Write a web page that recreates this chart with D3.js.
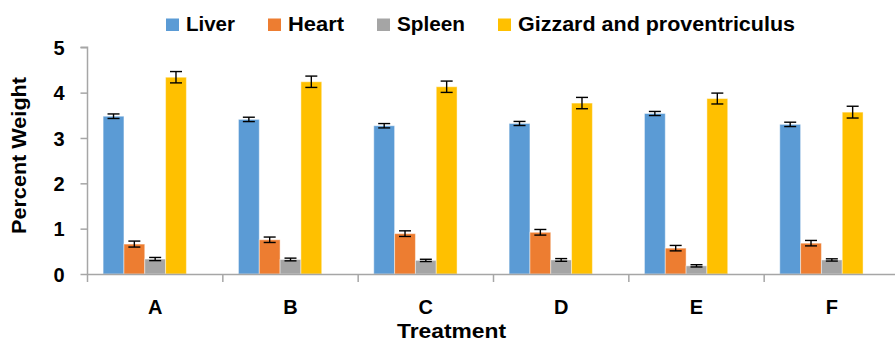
<!DOCTYPE html>
<html>
<head>
<meta charset="utf-8">
<script src="https://cdn.jsdelivr.net/npm/d3@7"></script>
<style>
  html, body { margin: 0; padding: 0; background: #fff; }
  svg { display: block; }
  text { font-family: "Liberation Sans", Arial, sans-serif; font-weight: bold; fill: #000; }
</style>
</head>
<body>
<svg id="chart" width="895" height="341"></svg>
<script>
// ---- data ----
const categories = ["A", "B", "C", "D", "E", "F"];
const seriesNames = ["Liver", "Heart", "Spleen", "Gizzard and proventriculus"];
const liver   = [3.48, 3.41, 3.27, 3.32, 3.54, 3.30];
const liverErr   = [0.05, 0.048, 0.048, 0.045, 0.045, 0.048];
const heart   = [0.66, 0.755, 0.89, 0.92, 0.57, 0.68];
const heartErr   = [0.066, 0.06, 0.062, 0.062, 0.06, 0.06];
const spleen  = [0.33, 0.32, 0.30, 0.31, 0.18, 0.31];
const spleenErr  = [0.035, 0.03, 0.025, 0.03, 0.025, 0.025];
const gizzard = [4.34, 4.24, 4.13, 3.77, 3.87, 3.57];
const gizzardErr = [0.125, 0.125, 0.125, 0.125, 0.12, 0.13];
const yTicks = [0, 1, 2, 3, 4, 5];
const colors = ["#5B9BD5", "#ED7D31", "#A5A5A5", "#FFC000"];

const seriesValues = [liver, heart, spleen, gizzard];
const seriesErrors = [liverErr, heartErr, spleenErr, gizzardErr];

// ---- layout ----
const svg = d3.select("#chart");
const plotLeft = 87.5, plotRight = 899.5, plotTop = 47.3, plotBottom = 274;

const x0 = d3.scaleBand().domain(categories).range([plotLeft, plotRight]).padding(0);
// 5 slots per category (Excel layout with an empty fifth slot), gap width 150%
const x1 = d3.scaleBand().domain(d3.range(5)).range([0, x0.bandwidth()])
  .paddingInner(0).paddingOuter(0.75);
const y = d3.scaleLinear().domain([0, 5]).range([plotBottom, plotTop]);

// bars
seriesNames.forEach((name, si) => {
  const g = svg.append("g");
  g.selectAll("rect").data(categories).join("rect")
    .attr("x", c => x0(c) + x1(si))
    .attr("y", (c, i) => y(seriesValues[si][i]))
    .attr("width", x1.bandwidth())
    .attr("height", (c, i) => y(0) - y(seriesValues[si][i]))
    .attr("fill", colors[si])
    .attr("stroke", "#ffffff")
    .attr("stroke-opacity", 0.45)
    .attr("stroke-width", 1);
});

// error bars
seriesNames.forEach((name, si) => {
  const g = svg.append("g").attr("stroke", "#000").attr("stroke-width", 1.4);
  categories.forEach((c, i) => {
    const cx = x0(c) + x1(si) + x1.bandwidth() / 2;
    const v = seriesValues[si][i], e = seriesErrors[si][i];
    const yTop = y(v + e), yBot = y(v - e);
    g.append("line").attr("x1", cx).attr("x2", cx).attr("y1", yTop).attr("y2", yBot);
    g.append("line").attr("x1", cx - 6).attr("x2", cx + 6).attr("y1", yTop).attr("y2", yTop);
    g.append("line").attr("x1", cx - 6).attr("x2", cx + 6).attr("y1", yBot).attr("y2", yBot);
  });
});

// y axis
const yAxis = d3.axisLeft(y).tickValues(yTicks).tickFormat(d3.format("d")).tickSize(7).tickPadding(16);
const gy = svg.append("g").attr("transform", `translate(${plotLeft},0)`).call(yAxis);
gy.select(".domain").attr("stroke", "#A6A6A6").attr("stroke-width", 1.5).attr("d", `M-7,${y(5)}H0V${y(0)}`);
gy.selectAll(".tick line").attr("stroke", "#A6A6A6").attr("stroke-width", 1.5);
gy.selectAll(".tick text").style("font-size", "20px").style("font-family", "Liberation Sans, Arial, sans-serif")
  .style("font-weight", "bold").attr("fill", "#000").attr("dy", "0.36em");

// x axis
const xAxis = d3.axisBottom(x0).tickSize(0).tickPadding(26);
const gx = svg.append("g").attr("transform", `translate(0,${plotBottom})`).call(xAxis);
gx.select(".domain").attr("stroke", "#A6A6A6").attr("stroke-width", 1.5);
gx.selectAll(".tick text").style("font-size", "20px").style("font-family", "Liberation Sans, Arial, sans-serif")
  .style("font-weight", "bold").attr("fill", "#000");
// category boundary ticks
const boundaries = categories.map(c => x0(c)).concat([plotRight]);
gx.selectAll(".bound").data(boundaries).join("line").attr("class", "bound")
  .attr("x1", d => d).attr("x2", d => d).attr("y1", 0).attr("y2", 8)
  .attr("stroke", "#A6A6A6").attr("stroke-width", 1.5);

// axis titles
svg.append("text").attr("x", 451.5).attr("y", 337.5).attr("text-anchor", "middle")
  .style("font-size", "20px").attr("textLength", 109).attr("lengthAdjust", "spacingAndGlyphs")
  .text("Treatment");
svg.append("text").attr("transform", "translate(26,155.5) rotate(-90)").attr("text-anchor", "middle")
  .style("font-size", "20px").attr("textLength", 157).attr("lengthAdjust", "spacingAndGlyphs")
  .text("Percent Weight");

// legend
const legendTextWidths = [49, 56, 68, 277];
let lx = 166;
const lg = svg.append("g");
seriesNames.forEach((name, si) => {
  lg.append("rect").attr("x", lx).attr("y", 18.5).attr("width", 13).attr("height", 12.5).attr("fill", colors[si]);
  lg.append("text").attr("x", lx + 20).attr("y", 30.7).style("font-size", "20px")
    .attr("textLength", legendTextWidths[si]).attr("lengthAdjust", "spacingAndGlyphs").text(name);
  lx += 20 + legendTextWidths[si] + 33;
});
</script>
</body>
</html>
